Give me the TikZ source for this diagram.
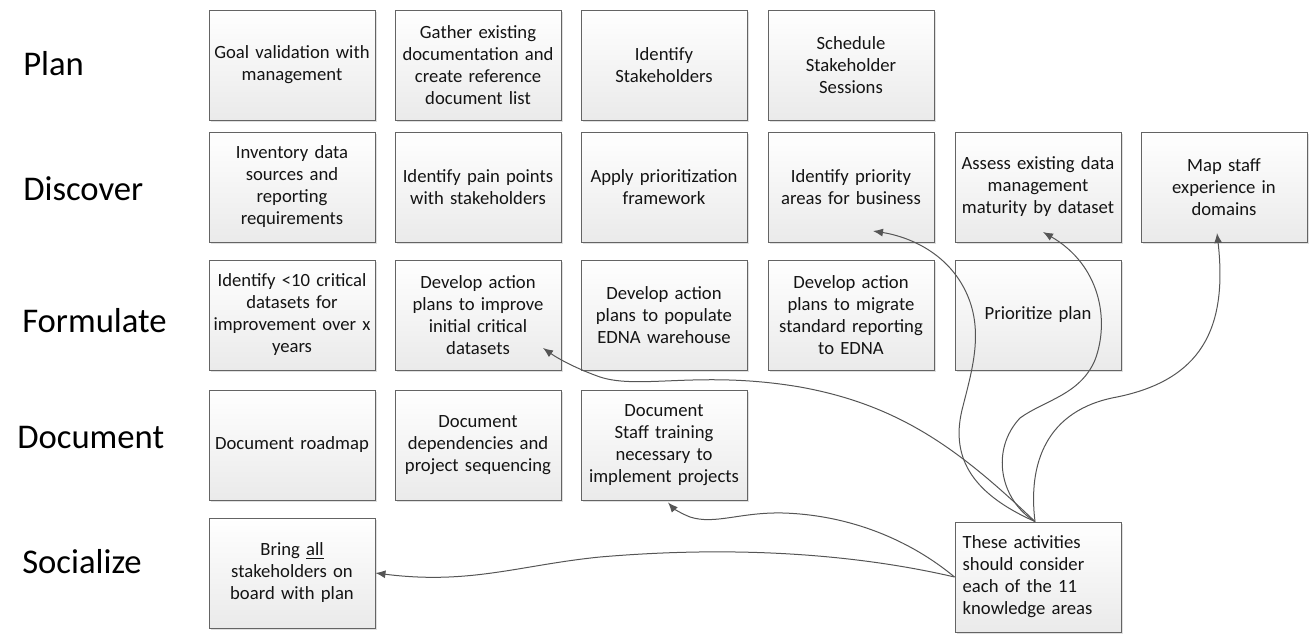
\documentclass[tikz,border=0pt]{standalone}
\usepackage{fontspec}
\setmainfont{Carlito}
\usetikzlibrary{shadows,calc,arrows.meta}
\definecolor{boxbot}{RGB}{234,234,234}
\definecolor{boxline}{RGB}{100,100,100}
\definecolor{txt}{RGB}{20,20,20}
\definecolor{lineclr}{RGB}{85,85,85}
\newcommand\boxfont{\fontsize{14pt}{16.5pt}\selectfont}
\newcommand\rowfont{\fontsize{26pt}{30pt}\selectfont}
\tikzset{
  box/.style={draw=boxline, line width=0.7pt, top color=white, bottom color=boxbot,
    minimum width=124.5pt, minimum height=82.5pt, text width=120pt, align=center,
    inner sep=0pt, font=\boxfont, text=txt,
    drop shadow={shadow xshift=1.6pt, shadow yshift=-1.6pt, fill=black, opacity=0.12}},
  notebox/.style={box, align=left, text width=113pt},
  rowlabel/.style={anchor=base west, font=\rowfont, text=black, inner sep=0pt},
  conn/.style={draw=lineclr, line width=0.75pt, -{Latex[length=7.5pt,width=6pt]}},
}
\begin{document}
\begin{tikzpicture}[x=0.75pt,y=-0.75pt]
\useasboundingbox (0,0) rectangle (1314,635);
% row labels
\node[rowlabel] (lplan) at (23,75) {Plan};
\node[rowlabel] (ldisc) at (23,200) {Discover};
\node[rowlabel] (lform) at (22,332) {Formulate};
\node[rowlabel] (ldoc) at (17,448) {Document};
\node[rowlabel] (lsoc) at (22,573) {Socialize};
% Plan
\node[box] (p1) at (292,65) {Goal validation with\\management};
\node[box] (p2) at (478,65) {Gather existing\\documentation and\\create reference\\document list};
\node[box] (p3) at (664,65) {Identify\\Stakeholders};
\node[box] (p4) at (851,65) {Schedule\\Stakeholder\\Sessions};
% Discover
\node[box] (d1) at (292,187) {Inventory data\\sources and\\reporting\\requirements};
\node[box] (d2) at (478,187) {Identify pain points\\with stakeholders};
\node[box] (d3) at (664,187) {Apply prioritization\\framework};
\node[box] (d4) at (851,187) {Identify priority\\areas for business};
\node[box] (d5) at (1038,187) {Assess existing data\\management\\maturity by dataset};
\node[box] (d6) at (1224,187) {Map staff\\experience in\\domains};
% Formulate
\node[box] (f1) at (292,315) {Identify <10 critical\\datasets for\\improvement over x\\years};
\node[box] (f2) at (478,315) {Develop action\\plans to improve\\initial critical\\datasets};
\node[box] (f3) at (664,315) {Develop action\\plans to populate\\EDNA warehouse};
\node[box] (f4) at (851,315) {Develop action\\plans to migrate\\standard reporting\\to EDNA};
\node[box] (f5) at (1038,315) {Prioritize plan};
% Document
\node[box] (m1) at (292,445) {Document roadmap};
\node[box] (m2) at (478,445) {Document\\dependencies and\\project sequencing};
\node[box] (m3) at (664,445) {Document\\Staff training\\necessary to\\implement projects};
% Socialize
\node[box] (s1) at (292,573) {Bring \underline{all}\\stakeholders on\\board with plan};
\node[notebox] (note) at (1038,577) {These activities\\should consider\\each of the 11\\knowledge areas\\[4pt]};
% connectors
\draw[conn] ($(note.north)+(-3,0)$) .. controls (975,495) and (950,460) .. (962,410)
   .. controls (972,370) and (985,330) .. (965,290)
   .. controls (945,250) and (905,236) .. ($(d4.center)+(22,44)$);
\draw[conn] ($(note.north)+(-3,0)$) .. controls (1000,500) and (990,450) .. (1020,418)
   .. controls (1045,400) and (1080,395) .. (1095,360)
   .. controls (1110,320) and (1100,265) .. ($(d5.center)+(5,45)$);
\draw[conn] ($(note.north)+(-3,0)$) .. controls (1028,465) and (1045,410) .. (1117,397)
   .. controls (1200,380) and (1228,330) .. ($(d6.center)+(-7,46)$);
\draw[conn] ($(note.north)+(-3,0)$) .. controls (960,450) and (900,405) .. (800,387)
   .. controls (700,370) and (640,390) .. (600,377)
   .. controls (580,370) and (560,360) .. ($(f2.center)+(65,33)$);
\draw[conn] (note.west) .. controls (910,540) and (850,515) .. (783,513)
   .. controls (740,512) and (715,525) .. (690,517)
   .. controls (680,513) and (673,508) .. ($(m3.south)+(4,2)$);
\draw[conn] (note.west) .. controls (860,555) and (740,545) .. (600,557)
   .. controls (520,565) and (470,585) .. (s1.east);
\end{tikzpicture}
\end{document}
